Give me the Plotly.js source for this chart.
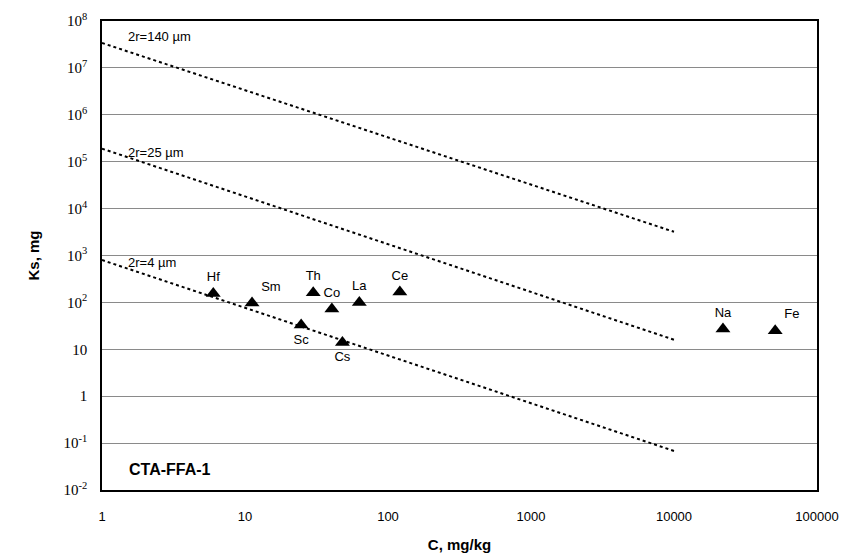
<!DOCTYPE html>
<html><head><meta charset="utf-8">
<script src="https://cdn.plot.ly/plotly-3.0.1.min.js"></script>
<style>body{margin:0;background:#fff}#chart{width:842px;height:557px}</style>
</head><body><div id="chart"></div>
<script>
// Reference lines (endpoints)
var lineX = [1, 10000];
var line140 = [3.4e7, 3.2e3];
var line25 = [1.9e5, 16];
var line4 = [800, 0.068];
var lineNames = ["2r=140 µm", "2r=25 µm", "2r=4 µm"];
var lineLabelY = [4.6e7, 1.55e5, 720];

// Elements
var elements = ["Hf", "Sm", "Th", "Co", "La", "Ce", "Sc", "Cs", "Na", "Fe"];
var concC = [6.0, 11.2, 30, 40.5, 63, 121, 24.7, 48, 22000, 51000];
var ksVals = [155, 97, 160, 72, 100, 166, 33, 14, 27, 25];
var labelPos = ["top center", "top right", "top center", "top center", "top center", "top center",
                "bottom center", "bottom center", "top center", "top right"];

var yTickVals = [1e8, 1e7, 1e6, 1e5, 1e4, 1e3, 1e2, 10, 1, 0.1, 0.01];
var yTickText = ["10<sup>8</sup>", "10<sup>7</sup>", "10<sup>6</sup>", "10<sup>5</sup>", "10<sup>4</sup>",
                 "10<sup>3</sup>", "10<sup>2</sup>", "10", "1", "10<sup>-1</sup>", "10<sup>-2</sup>"];
var xTickVals = [1, 10, 100, 1000, 10000, 100000];
var xTickText = ["1", "10", "100", "1000", "10000", "100000"];

var lineStyle = {color: "#000", width: 2, dash: "dot"};
var traces = [
  {x: lineX, y: line140, mode: "lines", line: lineStyle, hoverinfo: "skip", name: lineNames[0]},
  {x: lineX, y: line25, mode: "lines", line: lineStyle, hoverinfo: "skip", name: lineNames[1]},
  {x: lineX, y: line4, mode: "lines", line: lineStyle, hoverinfo: "skip", name: lineNames[2]},
  {x: concC, y: ksVals, mode: "markers+text", text: elements, textposition: labelPos,
   textfont: {family: "Liberation Sans, Arial, sans-serif", size: 13, color: "#000"},
   marker: {symbol: "triangle-up", size: 13, color: "#000"}, name: "data"}
];

var labelX = Math.log10(1.47);
var layout = {
  width: 842, height: 557,
  margin: {l: 102, r: 25, t: 21, b: 67},
  paper_bgcolor: "#fff", plot_bgcolor: "#fff",
  showlegend: false,
  font: {family: "Liberation Sans, Arial, sans-serif", color: "#000"},
  xaxis: {
    type: "log", range: [0, 5],
    tickvals: xTickVals, ticktext: xTickText,
    tickfont: {family: "Liberation Sans, Arial, sans-serif", size: 13, color: "#000"},
    ticks: "", ticklabelstandoff: 14,
    showgrid: false, zeroline: false,
    showline: true, linecolor: "#000", linewidth: 1.5, mirror: true,
    title: {text: "<b>C, mg/kg</b>", font: {size: 15, color: "#000"}, standoff: 16}
  },
  yaxis: {
    type: "log", range: [-2, 8],
    tickvals: yTickVals, ticktext: yTickText,
    tickfont: {family: "Liberation Serif, Times New Roman, serif", size: 15, color: "#000"},
    ticks: "", ticklabelstandoff: 10,
    showgrid: true, gridcolor: "#8a8a8a", gridwidth: 1,
    zeroline: false,
    showline: true, linecolor: "#000", linewidth: 1.5, mirror: true,
    title: {text: "<b>Ks, mg</b>", font: {size: 15, color: "#000"}, standoff: 20}
  },
  annotations: [
    {x: labelX, y: Math.log10(lineLabelY[0]), xref: "x", yref: "y", text: lineNames[0],
     showarrow: false, xanchor: "left", yanchor: "middle", font: {size: 13}},
    {x: labelX, y: Math.log10(lineLabelY[1]), xref: "x", yref: "y", text: lineNames[1],
     showarrow: false, xanchor: "left", yanchor: "middle", font: {size: 13}},
    {x: labelX, y: Math.log10(lineLabelY[2]), xref: "x", yref: "y", text: lineNames[2],
     showarrow: false, xanchor: "left", yanchor: "middle", font: {size: 13}},
    {x: Math.log10(1.5), y: Math.log10(0.028), xref: "x", yref: "y", text: "<b>CTA-FFA-1</b>",
     showarrow: false, xanchor: "left", yanchor: "middle", font: {size: 16}}
  ]
};

Plotly.newPlot("chart", traces, layout, {displayModeBar: false});
</script>
</body></html>
